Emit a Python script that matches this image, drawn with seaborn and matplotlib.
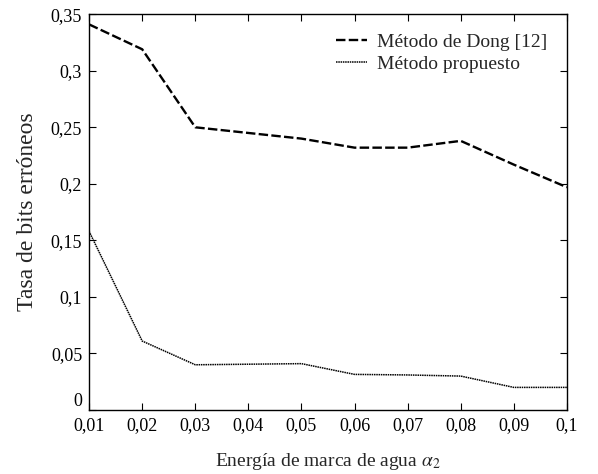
import matplotlib
matplotlib.use("Agg")
import matplotlib.pyplot as plt
import matplotlib.ticker as mticker
import pandas as pd
import seaborn as sns

# Data
alpha = [0.01, 0.02, 0.03, 0.04, 0.05, 0.06, 0.07, 0.08, 0.09, 0.10]
ber_dong = [0.341, 0.319, 0.250, 0.245, 0.240, 0.232, 0.232, 0.238, 0.217, 0.197]
ber_propuesto = [0.158, 0.061, 0.040, 0.0405, 0.041, 0.0315, 0.031, 0.030, 0.020, 0.020]
x_ticks = [0.01, 0.02, 0.03, 0.04, 0.05, 0.06, 0.07, 0.08, 0.09, 0.10]
y_ticks = [0, 0.05, 0.1, 0.15, 0.2, 0.25, 0.3, 0.35]

sns.set_style("ticks")
plt.rcParams["font.family"] = ["Liberation Serif", "DejaVu Serif"]
plt.rcParams["mathtext.fontset"] = "stix"

df = pd.DataFrame({"alpha": alpha, "dong": ber_dong, "prop": ber_propuesto})

fig, ax = plt.subplots(figsize=(5.98, 4.74), dpi=100)
fig.subplots_adjust(left=0.149, right=0.948, top=0.970, bottom=0.135)

sns.lineplot(data=df, x="alpha", y="dong", ax=ax, color="black", linewidth=1.7,
             linestyle=(0, (4, 1.4)), label="Método de Dong [12]")
sns.lineplot(data=df, x="alpha", y="prop", ax=ax, color="black", linewidth=1.1,
             linestyle=(0, (1, 0.5)), label="Método propuesto")

ax.set_xlim(0.01, 0.1)
ax.set_ylim(0, 0.35)
ax.set_xticks(x_ticks)
ax.set_yticks(y_ticks)

def comma_fmt(v, pos):
    s = f"{v:.2f}".rstrip("0").rstrip(".")
    return s.replace(".", ",")

ax.xaxis.set_major_formatter(mticker.FuncFormatter(comma_fmt))
ax.yaxis.set_major_formatter(mticker.FuncFormatter(comma_fmt))
ax.tick_params(direction="in", length=5, width=0.8, top=True, right=True,
               labelsize=13, colors="black", pad=5)
ax.get_yticklabels()[0].set_verticalalignment("bottom")
for sp in ax.spines.values():
    sp.set_linewidth(1.0)
    sp.set_color("black")

ax.set_xlabel(r"Energía de marca de agua $\alpha_2$", fontsize=14, labelpad=12)
ax.set_ylabel("Tasa de bits erróneos", fontsize=17, labelpad=9)

leg = ax.legend(loc="upper right", frameon=False, fontsize=14, handlelength=1.6,
                handletextpad=0.5, labelspacing=0.2, borderaxespad=0.6)

fig.savefig("out.png", dpi=100)
